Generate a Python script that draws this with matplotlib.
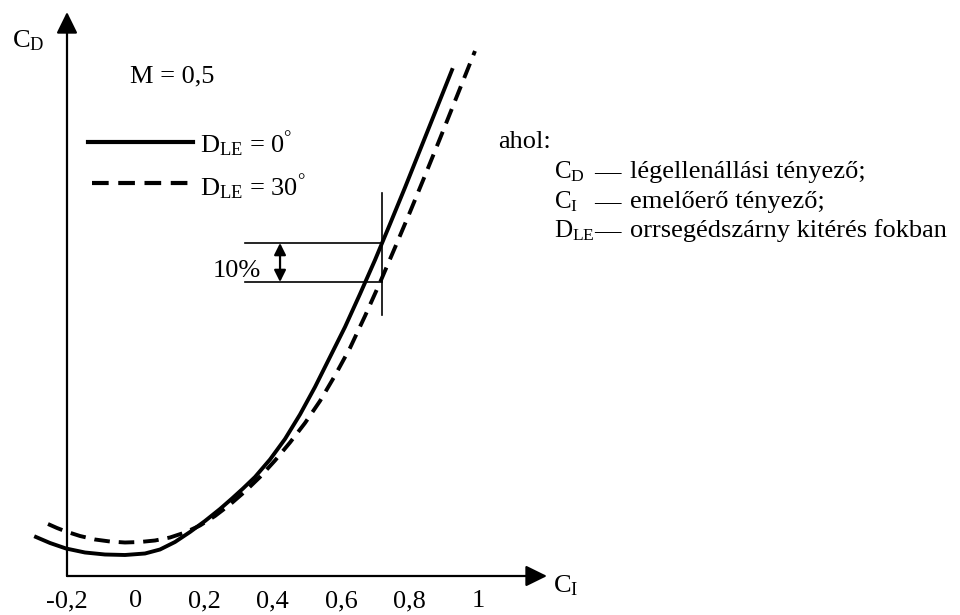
import matplotlib
matplotlib.use('Agg')
import matplotlib.pyplot as plt

plt.rcParams['font.family'] = ['Liberation Serif', 'DejaVu Serif']
plt.rcParams['mathtext.fontset'] = 'custom'
plt.rcParams['mathtext.rm'] = 'Liberation Serif'
plt.rcParams['mathtext.it'] = 'Liberation Serif:italic'

# (C_D in arbitrary units, x axis at C_D = 0)
ci_solid = [-0.2905, -0.2496, -0.2029, -0.1474, -0.0891, -0.0307, 0.0277, 0.0715,
            0.1153, 0.1591, 0.2029, 0.2467, 0.2818, 0.3139, 0.3489, 0.3927, 0.4365,
            0.4803, 0.5241, 0.5679, 0.6117, 0.6555, 0.6993, 0.7431, 0.7869, 0.8307,
            0.8745, 0.9241]
cd_solid = [0.0078, 0.0066, 0.0055, 0.0047, 0.0043, 0.0042, 0.0045, 0.0053,
            0.0068, 0.0088, 0.0110, 0.0134, 0.0155, 0.0175, 0.0198, 0.0233, 0.0274,
            0.0323, 0.0378, 0.0438, 0.0498, 0.0564, 0.0632, 0.0704, 0.0777, 0.0852,
            0.0927, 0.1012]

ci_dashed = [-0.2555, -0.2292, -0.2029, -0.1620, -0.1182, -0.0745, -0.0307, 0.0131,
             0.0569, 0.1007, 0.1445, 0.1883, 0.2321, 0.2759, 0.3197, 0.3635, 0.4073,
             0.4511, 0.4949, 0.5387, 0.5825, 0.6263, 0.6701, 0.7139, 0.7577, 0.8015,
             0.8453, 0.8891, 0.9328, 0.9912]
cd_dashed = [0.0104, 0.0096, 0.0089, 0.0080, 0.0073, 0.0069, 0.0067, 0.0068,
             0.0071, 0.0077, 0.0087, 0.0101, 0.0120, 0.0143, 0.0169, 0.0198, 0.0231,
             0.0267, 0.0306, 0.0350, 0.0401, 0.0456, 0.0520, 0.0587, 0.0657, 0.0728,
             0.0801, 0.0875, 0.0950, 0.1050]

xticks = [-0.2, 0, 0.2, 0.4, 0.6, 0.8, 1]
xtick_labels = ['-0,2', '0', '0,2', '0,4', '0,6', '0,8', '1']

# 10% marker
mark_ci = 0.72
mark_cd_top = 0.0666
mark_cd_bot = 0.0588

W, H = 960, 615


def pos(x, y):
    # pixel position -> figure fraction
    return x / W, 1 - y / H


fig = plt.figure(figsize=(9.6, 6.15), dpi=100)
ax = fig.add_axes([0, 0, 1, 1])
ax.axis('off')
ax.set_xlim(-135.5 / 342.5, (W - 135.5) / 342.5)
ax.set_ylim(-39 / 5000, 576 / 5000)

# axes with arrows
arrow = dict(arrowstyle='-|>,head_length=0.65,head_width=0.32', mutation_scale=20,
             lw=1.6, color='black', shrinkA=0, shrinkB=0)
ax.annotate('', xy=(-0.2, 0.1128), xytext=(-0.2, 0), arrowprops=arrow)
ax.annotate('', xy=(1.2015, 0), xytext=(-0.2, 0), arrowprops=arrow)

for t, lab in zip(xticks, xtick_labels):
    ax.text(t, -0.0062, lab, ha='center', va='baseline', fontsize=19)

# curves
ax.plot(ci_solid, cd_solid, color='black', lw=2.8, solid_joinstyle='round')
ax.plot(ci_dashed, cd_dashed, color='black', lw=2.8, dashes=(4, 2.3))

# 10% marker
ax.plot([mark_ci, mark_ci], [0.0766, 0.0522], color='black', lw=1.2)
ax.plot([0.32, mark_ci], [mark_cd_top, mark_cd_top], color='black', lw=1.2)
ax.plot([0.32, mark_ci], [mark_cd_bot, mark_cd_bot], color='black', lw=1.2)
ax.annotate('', xy=(0.422, mark_cd_top), xytext=(0.422, mark_cd_bot),
            arrowprops=dict(arrowstyle='<|-|>,head_length=0.5,head_width=0.25',
                            mutation_scale=14, lw=1.6, color='black',
                            shrinkA=0, shrinkB=0))
fig.text(*pos(213, 277), '10%', fontsize=19, va='baseline')

# labels
fig.text(*pos(12, 47), r'$\mathrm{C}_\mathrm{D}$', fontsize=19, va='baseline')
fig.text(*pos(553, 592), r'$\mathrm{C}_\mathrm{I}$', fontsize=19, va='baseline')
fig.text(*pos(130, 82), 'M = 0,5', fontsize=19, va='baseline')

# legend
fig.add_artist(plt.Line2D([88 / W, 193 / W], [1 - 142 / H, 1 - 142 / H], color='black', lw=3))
fig.add_artist(plt.Line2D([92 / W, 193 / W], [1 - 183 / H, 1 - 183 / H], color='black', lw=3,
                          dashes=(4, 2.3)))
fig.text(*pos(200, 152), r'$\mathrm{D}_\mathrm{LE}$ = 0$^{\mathrm{°}}$', fontsize=19, va='baseline')
fig.text(*pos(200, 195), r'$\mathrm{D}_\mathrm{LE}$ = 30$^{\mathrm{°}}$', fontsize=19, va='baseline')

# explanation
fig.text(*pos(498, 148), 'ahol:', fontsize=19, va='baseline')
rows = [(178, r'$\mathrm{C}_\mathrm{D}$', 'légellenállási tényező;'),
        (208, r'$\mathrm{C}_\mathrm{I}$', 'emelőerő tényező;'),
        (237, r'$\mathrm{D}_\mathrm{LE}$', 'orrsegédszárny kitérés fokban')]
for y, sym, txt in rows:
    fig.text(*pos(554, y), sym, fontsize=18, va='baseline')
    fig.text(*pos(594, y), '—', fontsize=19, va='baseline')
    fig.text(*pos(630, y), txt, fontsize=19, va='baseline')

fig.savefig('out.png', dpi=100)
